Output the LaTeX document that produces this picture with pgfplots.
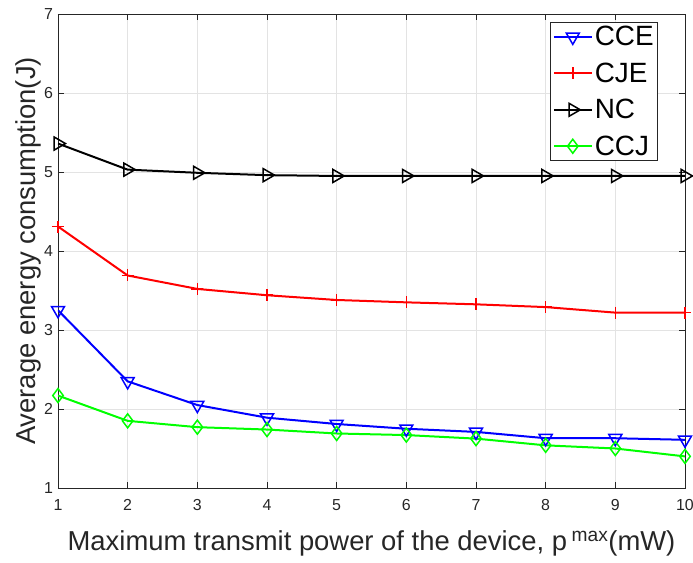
\documentclass[border=0pt]{standalone}
\usepackage{fontspec}
\setmainfont{Liberation Sans}
\usepackage{pgfplots}
\pgfplotsset{compat=1.18}
\definecolor{axgray}{HTML}{262626}
\definecolor{gridgray}{HTML}{E3E3E3}
\begin{document}
\begin{tikzpicture}
\path[use as bounding box] (-58bp,-75bp) rectangle (635bp,488bp);
\begin{axis}[
  at={(0,0)}, anchor=south west,
  scale only axis,
  width=627bp, height=474bp,
  xmin=1, xmax=10, ymin=1, ymax=7,
  xtick={1,...,10}, ytick={1,...,7},
  /pgf/number format/assume math mode=true,
  tick label style={font=\fontsize{16}{19}\selectfont, text=axgray},
  xticklabel style={yshift=-8bp},
  yticklabel style={xshift=-1.5bp},
  axis line style={axgray, line width=0.7bp},
  tick style={axgray, line width=0.7bp},
  tick align=inside, major tick length=6bp,
  grid=major, grid style={gridgray, line width=0.7bp},
  xlabel={Maximum transmit power of the device, p\,\textsuperscript{max}(mW)},
  ylabel={Average energy consumption(J)},
  label style={font=\fontsize{27.5}{32}\selectfont, text=axgray},
  xlabel style={at={(axis description cs:0.5,0)}, anchor=base, yshift=-62bp},
  ylabel style={at={(axis description cs:-0.0478,0.5)}, anchor=center, rotate=0},
  legend style={at={(0.957,0.983)}, anchor=north east, font=\fontsize{28}{32}\selectfont,
    draw=axgray, line width=0.7bp, row sep=11.5bp, inner sep=2bp,
    cells={anchor=west}},
  legend image code/.code={\draw[mark repeat=2,mark phase=2] plot coordinates {(0bp,0bp) (19bp,0bp) (38bp,0bp)};},
  every axis plot/.append style={line width=2bp, mark size=7bp, mark options={solid, line width=1.5bp}},
]
\addplot[blue, mark=triangle, mark size=7.5bp, mark options={rotate=180, solid, line width=1.5bp}] coordinates {
(1,3.25) (2,2.35) (3,2.05) (4,1.89) (5,1.81) (6,1.75) (7,1.71) (8,1.63) (9,1.63) (10,1.61)};
\addlegendentry{CCE}
\addplot[red, mark=+, mark size=6bp] coordinates {
(1,4.31) (2,3.69) (3,3.52) (4,3.44) (5,3.38) (6,3.35) (7,3.325) (8,3.29) (9,3.22) (10,3.22)};
\addlegendentry{CJE}
\addplot[black, mark=triangle, mark size=7.5bp, mark options={rotate=-90, solid, line width=1.5bp}] coordinates {
(1,5.36) (2,5.03) (3,4.99) (4,4.96) (5,4.95) (6,4.95) (7,4.95) (8,4.95) (9,4.95) (10,4.95)};
\addlegendentry{NC}
\addplot[green, mark=diamond, mark size=7bp] coordinates {
(1,2.17) (2,1.85) (3,1.77) (4,1.74) (5,1.69) (6,1.67) (7,1.625) (8,1.54) (9,1.50) (10,1.40)};
\addlegendentry{CCJ}
\end{axis}
\end{tikzpicture}
\end{document}
